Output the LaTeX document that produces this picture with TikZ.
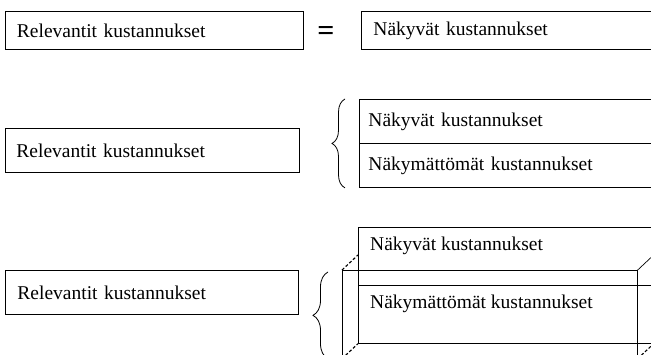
\documentclass[tikz,border=0pt]{standalone}
\usepackage{fontspec}
\setmainfont{Liberation Serif}
\usepackage{tikz}
\usetikzlibrary{decorations.pathreplacing}

\tikzset{
  lbl/.style={font=\fontsize{19.5}{22}\selectfont},
  kbox/.style={lbl, draw, line width=0.9pt, anchor=north west, inner xsep=11pt,
    inner ysep=0pt, align=left},
  hidden/.style={dash pattern=on 3pt off 2pt, line width=1.1pt},
  curly/.style={decorate, decoration={brace, amplitude=#1}, line width=0.8pt}
}

\begin{document}
\begin{tikzpicture}[x=1pt,y=-1pt]
   \useasboundingbox (0,0) rectangle (651,355);
   \clip (0,0) rectangle (651,355);

   % top row
   \draw (5,11) node[kbox, text width=275pt, minimum height=38pt, inner xsep=11.5pt] (rel1) {Relevantit kustannukset};
   \draw (326,34) node[font=\fontsize{30}{30}\selectfont\bfseries] (eq) {=};
   \draw (361,11) node[kbox, text width=285pt, minimum height=38pt, inner xsep=12pt] (vis1) {Näkyvät kustannukset};

   % middle row
   \draw (5,128) node[kbox, text width=272pt, minimum height=44pt] (rel2) {Relevantit kustannukset};
   \draw (359,99) node[kbox, text width=291pt, minimum height=44pt, inner xsep=9pt] (vis2) {Näkyvät kustannukset};
   \draw (359,143) node[kbox, text width=291pt, minimum height=44pt, inner xsep=9pt] (invis2) {Näkymättömät kustannukset};
   \draw[curly=13pt] ([xshift=-14pt]invis2.south west) -- ([xshift=-14pt]vis2.north west);

   % bottom row
   \draw (5,270) node[kbox, text width=269pt, minimum height=44pt, inner xsep=12pt] (rel3) {Relevantit kustannukset};
   \draw (358,227) node[draw, line width=0.9pt, anchor=north west, minimum width=312pt, minimum height=116pt, inner sep=0pt] (back) {};
   \draw[line width=0.9pt] ([yshift=-58pt]back.north west) -- ([yshift=-58pt]back.north east);
   \draw (358,246) node[lbl, anchor=west, inner xsep=12pt] (vis3) {Näkyvät kustannukset};
   \draw (358,304) node[lbl, anchor=west, inner xsep=12pt] (invis3) {Näkymättömät kustannukset};
   \draw (342,270) node[draw, line width=0.7pt, anchor=north west, minimum width=295pt, minimum height=88pt, inner sep=0pt] (front) {};

   \path[hidden] (front.north west) edge ++(16,-15);
   \path[line width=0.7pt] (front.north east) edge ++(16,-15);
   \path[hidden] (front.south west) edge ++(16,-15);
   \path[hidden] (front.south east) edge ++(16,-15);
   \draw[curly=15pt] ([xshift=-14pt]front.south west) -- ([xshift=-14pt,yshift=-2pt]front.north west);

\end{tikzpicture}
\end{document}
